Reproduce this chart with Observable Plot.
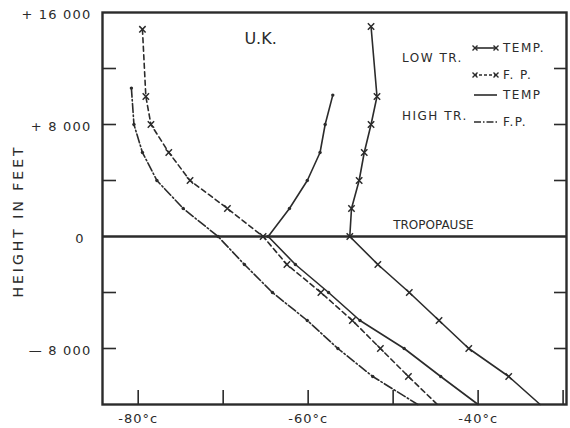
<!DOCTYPE html>
<html><head><meta charset="utf-8">
<script src="https://cdn.jsdelivr.net/npm/d3@7"></script>
<script src="https://cdn.jsdelivr.net/npm/@observablehq/plot@0.6"></script>
<style>
body{margin:0;background:#fff;}
svg text{font-family:"DejaVu Sans",sans-serif;}
g[aria-label="y-axis tick label"] text{letter-spacing:1.2px;}
g[aria-label="x-axis tick label"] text{letter-spacing:1px;}
</style></head><body><div id="chart"></div>
<script>
// Low tropopause, temperature (solid line, x markers)
const lowTempFeet = [15000, 10000, 8000, 6000, 4000, 2000, 0, -2000, -4000, -6000, -8000, -10000, -12000];
const lowTempDeg  = [-52.6, -51.9, -52.6, -53.4, -54.0, -54.9, -55.1, -51.8, -48.1, -44.6, -41.1, -36.4, -32.7];
// Low tropopause, frost point (dashed line, x markers)
const lowFpFeet = [14800, 10000, 8000, 6000, 4000, 2000, 0, -2000, -4000, -6000, -8000, -10000, -12000];
const lowFpDeg  = [-79.5, -79.1, -78.5, -76.4, -73.9, -69.5, -65.3, -62.5, -58.5, -54.8, -51.5, -48.2, -44.8];
// High tropopause, temperature (solid line, dots)
const highTempFeet = [10100, 8000, 6000, 4000, 2000, 0, -2000, -4000, -6000, -8000, -10000, -12000];
const highTempDeg  = [-57.1, -58.0, -58.6, -60.1, -62.2, -64.7, -61.5, -57.6, -53.9, -48.7, -44.4, -40.0];
// High tropopause, frost point (dash-dot line, dots)
const highFpFeet = [10600, 8000, 6000, 4000, 2000, 0, -2000, -4000, -6000, -8000, -10000, -12000];
const highFpDeg  = [-80.8, -80.5, -79.5, -77.8, -74.7, -70.6, -67.5, -64.2, -60.1, -56.5, -52.4, -47.1];

const yLabelTicks = [16000, 8000, -8000];
const yLabelTexts = ["+ 16 000", "+ 8 000", "\u2014 8 000"];
const yZeroTick = [0];
const yZeroText = "0";
const yMinorTicks = [12000, 8000, 4000, -4000, -8000];
const xTicks = [-80, -70, -60, -50, -40, -30];
const xLabelTicks = [-80, -60, -40];
const xLabelTexts = ["-80°c", "-60°c", "-40°c"];

const toRows = (feet, deg, series) => feet.map((f, i) => ({series, feet: f, deg: deg[i]}));
const lowTemp = toRows(lowTempFeet, lowTempDeg, "lowTemp");
const lowFp = toRows(lowFpFeet, lowFpDeg, "lowFp");
const highTemp = toRows(highTempFeet, highTempDeg, "highTemp");
const highFp = toRows(highFpFeet, highFpDeg, "highFp");
const mk = d => d.feet > -12000;

const W = 570, H = 428, mL = 102, mR = 4, mT = 12, mB = 24;
const xDom = [-84.2, -29.6], yDom = [-12000, 16000];
const degPerPx = (xDom[1] - xDom[0]) / (W - mL - mR);
const feetPerPx = (yDom[1] - yDom[0]) / (H - mT - mB);

const ink = "#2b2b2b";
const chart = Plot.plot({
  width: W, height: H,
  marginLeft: mL, marginRight: mR, marginTop: mT, marginBottom: mB,
  x: {domain: xDom, label: null},
  y: {domain: yDom, label: null},
  style: {fontFamily: "DejaVu Sans, sans-serif", color: ink, background: "#fff", overflow: "visible"},
  marks: [
    // inward tick marks
    Plot.ruleY(yMinorTicks, {y: d => d, x1: xDom[0], x2: xDom[0] + 14 * degPerPx, stroke: ink, strokeWidth: 1.6}),
    Plot.ruleY(yMinorTicks, {y: d => d, x1: xDom[1] - 12 * degPerPx, x2: xDom[1], stroke: ink, strokeWidth: 1.6}),
    Plot.ruleX(xTicks, {x: d => d, y1: yDom[0], y2: yDom[0] + 14 * feetPerPx, stroke: ink, strokeWidth: 1.6}),
    Plot.axisY(yLabelTicks, {anchor: "left", tickSize: 0, tickPadding: 11, label: null, fontSize: 13, dy: 2,
      tickFormat: d => yLabelTexts[yLabelTicks.indexOf(d)]}),
    Plot.text(yZeroTick, {y: d => d, frameAnchor: "left", dx: -19, dy: 2, textAnchor: "end", fontSize: 13,
      fill: ink, text: () => yZeroText}),
    Plot.axisX(xLabelTicks, {anchor: "bottom", tickSize: 0, tickPadding: 9, label: null, fontSize: 13,
      tickFormat: d => xLabelTexts[xLabelTicks.indexOf(d)]}),
    Plot.frame({stroke: ink, strokeWidth: 2.4}),
    Plot.ruleY([0], {stroke: ink, strokeWidth: 2.4}),
    Plot.line(lowTemp, {x: "deg", y: "feet", stroke: ink, strokeWidth: 1.6}),
    Plot.line(lowFp, {x: "deg", y: "feet", stroke: ink, strokeWidth: 1.6, strokeDasharray: "5,3.5"}),
    Plot.line(highTemp, {x: "deg", y: "feet", stroke: ink, strokeWidth: 1.6}),
    Plot.line(highFp, {x: "deg", y: "feet", stroke: ink, strokeWidth: 1.6, strokeDasharray: "9,2.5,1.5,2.5"}),
    Plot.dot(lowTemp.filter(mk), {x: "deg", y: "feet", symbol: "times", r: 3, stroke: ink, strokeWidth: 1.5}),
    Plot.dot(lowFp.filter(mk), {x: "deg", y: "feet", symbol: "times", r: 3, stroke: ink, strokeWidth: 1.5}),
    Plot.dot(highTemp.filter(mk), {x: "deg", y: "feet", r: 1.7, fill: ink, stroke: "none"}),
    Plot.dot(highFp.filter(mk), {x: "deg", y: "feet", r: 1.7, fill: ink, stroke: "none"}),
    Plot.text(["TROPOPAUSE"], {x: -50, y: 0, dy: -11, text: d => d, textAnchor: "start", fontSize: 12, fill: ink,
      style: "letter-spacing:1.5px"}),
    Plot.text(["U.K."], {x: -65.6, y: 14100, text: d => d, fontSize: 16, fill: ink})
  ]
});

const svg = d3.select(chart);
// y-axis title
svg.append("text").attr("transform", "translate(19,221) rotate(-90)")
  .attr("text-anchor", "middle").attr("dominant-baseline", "middle")
  .attr("font-size", 14).attr("letter-spacing", "3px").attr("fill", ink).text("HEIGHT IN FEET");

// legend
const lg = svg.append("g").attr("fill", ink).attr("font-size", 12).attr("letter-spacing", "1.5px")
  .attr("text-anchor", "start");
lg.append("text").attr("x", 402).attr("y", 58).attr("dominant-baseline", "middle").text("LOW TR.");
lg.append("text").attr("x", 402).attr("y", 116).attr("dominant-baseline", "middle").text("HIGH TR.");
const entries = [
  {y: 48, label: "TEMP.", dash: null, cross: true},
  {y: 75, label: "F. P.", dash: "3,2", cross: true},
  {y: 95, label: "TEMP", dash: null, cross: false},
  {y: 122, label: "F.P.", dash: "7,2,1.5,2", cross: false}
];
const times = "M-2.5,-2.5L2.5,2.5M2.5,-2.5L-2.5,2.5";
for (const e of entries) {
  const l = lg.append("line").attr("x1", 474).attr("x2", 497).attr("y1", e.y).attr("y2", e.y)
    .attr("stroke", ink).attr("stroke-width", 1.6);
  if (e.dash) l.attr("stroke-dasharray", e.dash);
  if (e.cross) {
    for (const cx of [475, 496]) lg.append("path").attr("d", times).attr("transform", `translate(${cx},${e.y})`)
      .attr("stroke", ink).attr("stroke-width", 1.4).attr("fill", "none");
  }
  lg.append("text").attr("x", 503).attr("y", e.y).attr("dominant-baseline", "middle").text(e.label);
}
document.getElementById("chart").appendChild(chart);
</script></body></html>
